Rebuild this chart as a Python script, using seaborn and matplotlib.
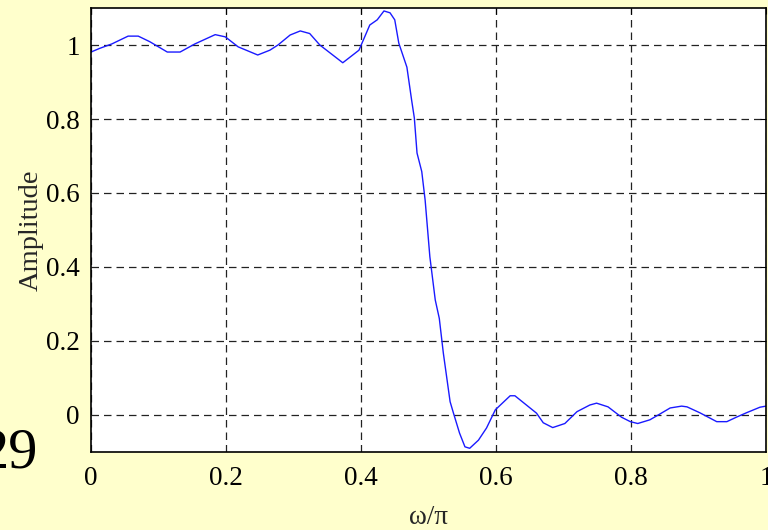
import numpy as np
import pandas as pd
import matplotlib
matplotlib.use("Agg")
import matplotlib.pyplot as plt
import seaborn as sns

omega = [0.0, 0.013, 0.031, 0.055, 0.070, 0.087, 0.113, 0.132, 0.154, 0.184, 0.199,
         0.218, 0.247, 0.265, 0.277, 0.295, 0.310, 0.324, 0.339, 0.373, 0.397, 0.413,
         0.424, 0.434, 0.443, 0.450, 0.456, 0.468, 0.475, 0.479, 0.483, 0.490, 0.495,
         0.502, 0.510, 0.516, 0.522, 0.532, 0.537, 0.546, 0.554, 0.561, 0.574, 0.586,
         0.599, 0.621, 0.628, 0.660, 0.670, 0.684, 0.702, 0.720, 0.739, 0.749, 0.766,
         0.786, 0.799, 0.810, 0.828, 0.845, 0.858, 0.875, 0.883, 0.902, 0.927, 0.942,
         0.956, 0.971, 0.991, 1.0]
amplitude = [0.981, 0.991, 1.003, 1.024, 1.024, 1.009, 0.981, 0.981, 1.003, 1.028, 1.022,
             0.995, 0.973, 0.986, 1.000, 1.027, 1.038, 1.031, 1.000, 0.952, 0.986, 1.054,
             1.068, 1.092, 1.087, 1.068, 1.005, 0.940, 0.851, 0.803, 0.708, 0.658, 0.581,
             0.428, 0.311, 0.261, 0.167, 0.036, 0.005, -0.049, -0.086, -0.090, -0.068, -0.035,
             0.014, 0.052, 0.052, 0.005, -0.021, -0.034, -0.023, 0.009, 0.027, 0.032, 0.022,
             -0.006, -0.018, -0.023, -0.013, 0.005, 0.019, 0.024, 0.022, 0.006, -0.018, -0.018,
             -0.006, 0.006, 0.021, 0.024]
xticks = [0, 0.2, 0.4, 0.6, 0.8, 1]
xtick_labels = ["0", "0.2", "0.4", "0.6", "0.8", "1"]
yticks = [0, 0.2, 0.4, 0.6, 0.8, 1]
ytick_labels = ["0", "0.2", "0.4", "0.6", "0.8", "1"]

df = pd.DataFrame({"omega": omega, "amplitude": amplitude})

sns.set_style("white")
plt.rcParams["font.family"] = ["Liberation Serif", "DejaVu Serif"]

bg = "#FFFFCC"
fig = plt.figure(figsize=(7.68, 5.30), dpi=100, facecolor=bg)
ax = fig.add_axes([91/768, 78/530, 675/768, 444/530])
ax.set_facecolor("white")

sns.lineplot(data=df, x="omega", y="amplitude", ax=ax, color="#1a1aff", linewidth=1.0)

ax.set_xlim(0, 1)
ax.set_ylim(-0.1, 1.1)
ax.set_xticks(xticks)
ax.set_xticklabels(xtick_labels)
ax.set_yticks(yticks)
ax.set_yticklabels(ytick_labels)
ax.tick_params(axis="both", direction="in", length=4, width=0.8, labelsize=19.5,
               colors="black", top=True, right=True)
ax.tick_params(axis="x", pad=10)
ax.tick_params(axis="y", pad=8)
ax.grid(True, color="#222222", linestyle=(0, (6, 4)), linewidth=0.9)
for s in ax.spines.values():
    s.set_color("black")
    s.set_linewidth(1.2)
    s.set_visible(True)

ax.set_xlabel("ω/π", fontsize=19.5, labelpad=10)
ax.set_ylabel("Amplitude", fontsize=20.5, labelpad=2)

fig.text(38/768, 63/530, "29", fontsize=42, ha="right", va="baseline", color="black")

fig.savefig("out.png", dpi=100, facecolor=bg)
